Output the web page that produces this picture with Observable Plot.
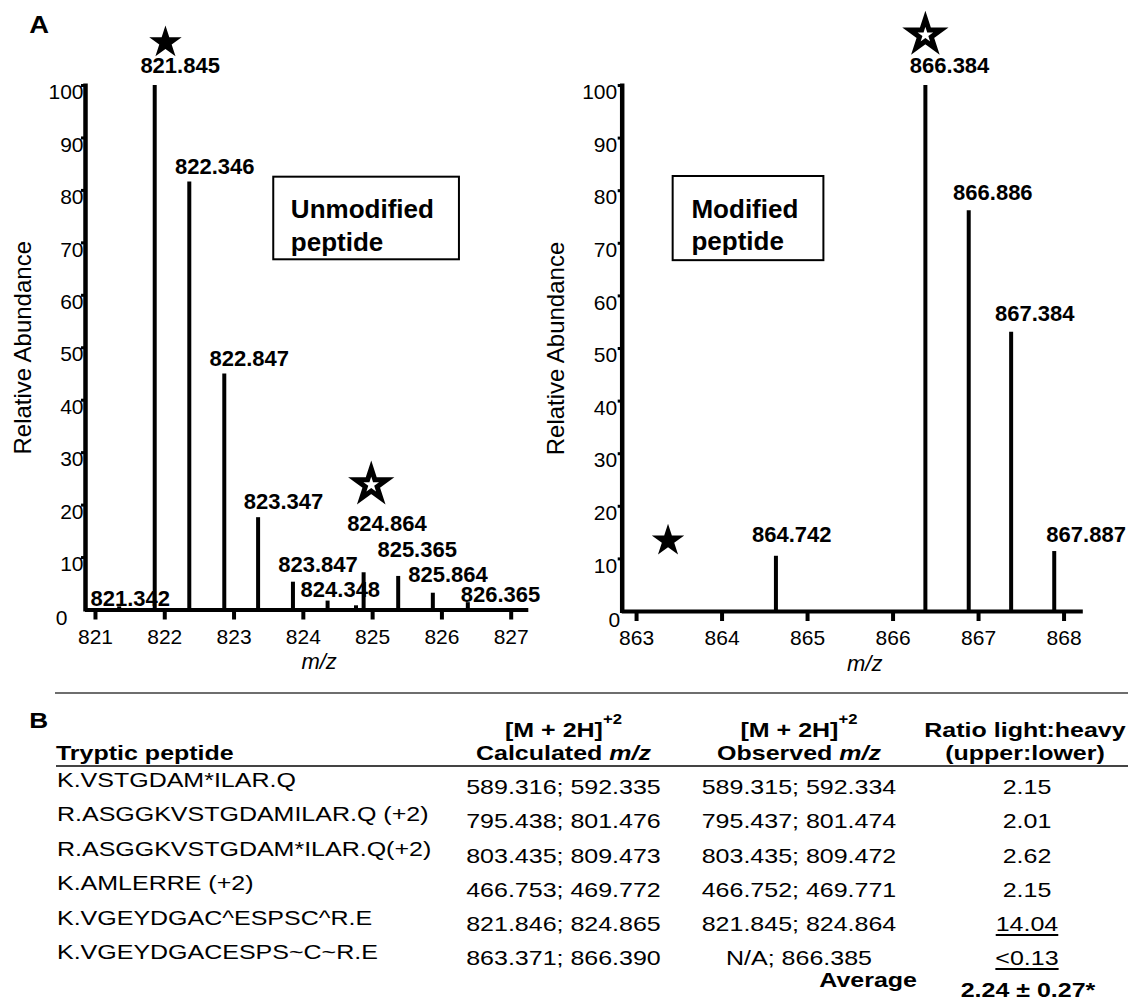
<!DOCTYPE html>
<html><head><meta charset="utf-8">
<script src="https://cdn.jsdelivr.net/npm/d3@7"></script>
<script src="https://cdn.jsdelivr.net/npm/@observablehq/plot@0.6"></script>
<style>
body{margin:0;background:#fff;font-family:"Liberation Sans",Arial,sans-serif;}
#fig{position:relative;width:1128px;height:1001px;overflow:hidden;background:#fff;}
.panel{position:absolute;top:0;}
#tbl{position:absolute;left:0;top:0;width:1128px;height:1001px;transform:scaleX(1.19);transform-origin:0 0;}
.t{position:absolute;white-space:nowrap;color:#000;}
.hl{position:absolute;}
</style></head><body><div id="fig"></div>
<script>
// ---------- Panel A: unmodified peptide spectrum ----------
const unmodPeakMz        = [821.342, 821.855, 822.354, 822.859, 823.347, 823.850, 824.350, 824.760, 824.870, 825.369, 825.869, 826.374];
const unmodPeakAbundance = [0.6, 100, 81.6, 45.0, 17.6, 5.3, 1.7, 0.8, 7.1, 6.4, 3.2, 1.4];
const unmodLabelText      = ["821.342","821.845","822.346","822.847","823.347","823.847","824.348","824.864","825.365","825.864","826.365"];
const unmodLabelMz        = [821.501, 822.222, 822.721, 823.220, 823.714, 824.212, 824.534, 825.206, 825.643, 826.088, 826.846];
const unmodLabelAbundance = [2.14, 103.7, 84.4, 47.95, 20.55, 8.67, 3.87, 16.34, 11.53, 6.77, 2.96];
const unmodStarMz         = [822.010, 824.980];
const unmodStarAbundance  = [108.2, 23.87];
const unmodStarFilled     = [true, false];
const unmodXTicks         = [821, 822, 823, 824, 825, 826, 827];
const unmodXDomain        = [820.856, 827.254];
const unmodBox            = {x1: 823.573, x2: 826.253, y1: 66.77, y2: 82.52, tx: 823.82, ty: 79.16, text: "Unmodified\npeptide"};

// ---------- Panel A: modified peptide spectrum ----------
const modPeakMz        = [864.630, 866.378, 866.885, 867.381, 867.885];
const modPeakAbundance = [10.5, 100, 76.2, 53.1, 11.4];
const modLabelText      = ["864.742","866.384","866.886","867.384","867.887"];
const modLabelMz        = [864.815, 866.661, 867.167, 867.657, 868.258];
const modLabelAbundance = [14.64, 103.7, 79.5, 56.5, 14.64];
const modStarMz         = [866.378, 863.368];
const modStarAbundance  = [109.6, 13.44];
const modStarFilled     = [false, true];
const modXTicks         = [863, 864, 865, 866, 867, 868];
const modXDomain        = [862.832, 868.225];
const modBox            = {x1: 863.428, x2: 865.191, y1: 66.7, y2: 82.7, tx: 863.642, ty: 79.3, text: "Modified\npeptide"};

const yTicks = [0, 10, 20, 30, 40, 50, 60, 70, 80, 90, 100];

// ---------- Panel B: table ----------
const peptides    = ["K.VSTGDAM*ILAR.Q", "R.ASGGKVSTGDAMILAR.Q (+2)", "R.ASGGKVSTGDAM*ILAR.Q(+2)", "K.AMLERRE (+2)", "K.VGEYDGAC^ESPSC^R.E", "K.VGEYDGACESPS~C~R.E"];
const calculatedMz = ["589.316; 592.335", "795.438; 801.476", "803.435; 809.473", "466.753; 469.772", "821.846; 824.865", "863.371; 866.390"];
const observedMz   = ["589.315; 592.334", "795.437; 801.474", "803.435; 809.472", "466.752; 469.771", "821.845; 824.864", "N/A; 866.385"];
const ratios       = ["2.15", "2.01", "2.62", "2.15", "14.04", "<0.13"];
const ratioUnderlined = [false, false, false, false, true, true];
const averageRatio = "2.24 ± 0.27*";

const FONT = "Liberation Sans, Arial, Helvetica, sans-serif";

function spectrum(cfg) {
  const peaks = cfg.mz.map((m, i) => ({mz: m, ab: cfg.ab[i]}));
  const labels = cfg.labelText.map((t, i) => ({text: t, mz: cfg.labelMz[i], ab: cfg.labelAb[i]}));
  const stars = cfg.starMz.map((m, i) => ({mz: m, ab: cfg.starAb[i], filled: cfg.starFilled[i]}));
  return Plot.plot({
    width: cfg.width, height: cfg.height,
    marginLeft: cfg.marginLeft, marginRight: cfg.marginRight, marginTop: 85, marginBottom: cfg.marginBottom,
    x: {domain: cfg.xDomain},
    y: {domain: [0, 100]},
    style: {fontFamily: FONT, background: "none", overflow: "visible", color: "black"},
    marks: [
      Plot.rect([cfg.box], {x1: "x1", x2: "x2", y1: "y1", y2: "y2", fill: "white", stroke: "black", strokeWidth: 2}),
      Plot.text([cfg.box], {x: "tx", y: "ty", text: "text", textAnchor: "start", lineAnchor: "top", lineHeight: 1.26, fontSize: 26, fontWeight: "bold"}),
      Plot.ruleX(peaks, {x: "mz", y1: 0, y2: "ab", strokeWidth: 4, stroke: "black"}),
      Plot.ruleY([0], {strokeWidth: 4, stroke: "black"}),
      Plot.ruleX([cfg.xDomain[0]], {y1: -0.4, y2: 100.3, strokeWidth: 4.5, stroke: "black"}),
      Plot.axisY(yTicks.filter(d => d > 0), {tickSize: 4, strokeWidth: 3, fill: "none", label: null}),
      Plot.axisY(yTicks.filter(d => d > 0), {tickSize: 0, tickPadding: cfg.tickPad, dy: 7, fontSize: 21, label: null}),
      Plot.axisY(yTicks.filter(d => d === 0), {tickSize: 0, tickPadding: cfg.tickPad, dx: cfg.zeroDx, dy: 8.5, fontSize: 21, label: null}),
      Plot.axisX(cfg.xTicks, {tickSize: 10, tickPadding: 9, strokeWidth: 4, fontSize: 21, label: null, tickFormat: "d"}),
      Plot.text(labels, {x: "mz", y: "ab", text: "text", fontSize: 22, fontWeight: "bold"}),
      Plot.dot(stars.filter(d => d.filled), {x: "mz", y: "ab", symbol: "star", r: 10.2, fill: "black"}),
      Plot.dot(stars.filter(d => !d.filled), {x: "mz", y: "ab", symbol: "star", r: 9.7, fill: "white", stroke: "black", strokeWidth: 5, strokeLinejoin: "miter"}),
      Plot.text(["m/z"], {frameAnchor: "bottom", textAnchor: "middle", lineAnchor: "middle", dx: 12, dy: 52, fontSize: 22, fontStyle: "italic"}),
      Plot.text(["Relative Abundance"], {frameAnchor: "left", textAnchor: "middle", lineAnchor: "middle", rotate: -90, dx: cfg.yLabelDx, fontSize: 24})
    ]
  });
}

const fig = document.getElementById("fig");
function addPanel(svg, left) {
  const d = document.createElement("div");
  d.className = "panel";
  d.style.left = left + "px";
  d.appendChild(svg);
  fig.appendChild(d);
}

addPanel(spectrum({
  width: 560, height: 680, marginLeft: 85, marginRight: 31.7, marginBottom: 70.5,
  xDomain: unmodXDomain, xTicks: unmodXTicks,
  mz: unmodPeakMz, ab: unmodPeakAbundance,
  labelText: unmodLabelText, labelMz: unmodLabelMz, labelAb: unmodLabelAbundance,
  starMz: unmodStarMz, starAb: unmodStarAbundance, starFilled: unmodStarFilled,
  box: unmodBox, tickPad: 2, zeroDx: -16, yLabelDx: -61.8
}), 0);

addPanel(spectrum({
  width: 598, height: 680, marginLeft: 91.7, marginRight: 45.2, marginBottom: 69,
  xDomain: modXDomain, xTicks: modXTicks,
  mz: modPeakMz, ab: modPeakAbundance,
  labelText: modLabelText, labelMz: modLabelMz, labelAb: modLabelAbundance,
  starMz: modStarMz, starAb: modStarAbundance, starFilled: modStarFilled,
  box: modBox, tickPad: 5, zeroDx: 3, yLabelDx: -66
}), 530);

// ---------- table (HTML text) ----------
function hline(top, left, width, h, color) {
  const d = document.createElement("div");
  d.className = "hl";
  Object.assign(d.style, {top: top + "px", left: left + "px", width: width + "px", height: h + "px", background: color});
  fig.appendChild(d);
}
hline(691.5, 55, 1073, 2.5, "#6e6e6e");
hline(765, 56, 1072, 2, "#444");

const SX = 1.19;
const tbl = document.createElement("div");
tbl.id = "tbl";
fig.appendChild(tbl);
function put(html, x, baseline, o = {}) {
  const size = o.size || 21;
  const s = document.createElement("div");
  s.className = "t";
  s.innerHTML = html;
  Object.assign(s.style, {
    fontSize: size + "px", lineHeight: size + "px",
    top: (baseline - 0.8465 * size) + "px",
    left: (x / SX) + "px",
    fontWeight: o.bold ? "bold" : "normal",
    transform: o.anchor === "middle" ? "translateX(-50%)" : o.anchor === "end" ? "translateX(-100%)" : "none"
  });
  if (o.underline) {
    s.style.textDecoration = "underline";
    s.style.textUnderlineOffset = "3px";
    s.style.textDecorationThickness = "2px";
  }
  tbl.appendChild(s);
}
const sup = '<span style="font-size:14px;position:relative;top:-13px">+2</span>';
put("A", 29.3, 33, {bold: true, size: 23});
put("B", 29.3, 728.3, {bold: true, size: 22});
put("Tryptic peptide", 56, 760, {bold: true});
const colCalc = 563.5, colObs = 799, colRatio = 1025;
put("[M + 2H]" + sup, colCalc, 737, {bold: true, anchor: "middle"});
put("[M + 2H]" + sup, colObs, 737, {bold: true, anchor: "middle"});
put("Ratio light:heavy", colRatio, 737, {bold: true, anchor: "middle"});
put("Calculated <i>m/z</i>", colCalc, 760, {bold: true, anchor: "middle"});
put("Observed <i>m/z</i>", colObs, 760, {bold: true, anchor: "middle"});
put("(upper:lower)", colRatio, 760, {bold: true, anchor: "middle"});
peptides.forEach((p, i) => {
  put(p, 57, 786.7 + 34.45 * i);
  put(calculatedMz[i], colCalc, 794 + 34.2 * i, {anchor: "middle"});
  put(observedMz[i], colObs, 794 + 34.2 * i, {anchor: "middle"});
  put(ratios[i].replace("<", "&lt;"), colRatio + 2, 794 + 34.2 * i, {anchor: "middle", underline: ratioUnderlined[i]});
});
put("Average", 917, 987, {bold: true, anchor: "end"});
put(averageRatio, 1028, 997, {bold: true, anchor: "middle"});
</script>
</body></html>
